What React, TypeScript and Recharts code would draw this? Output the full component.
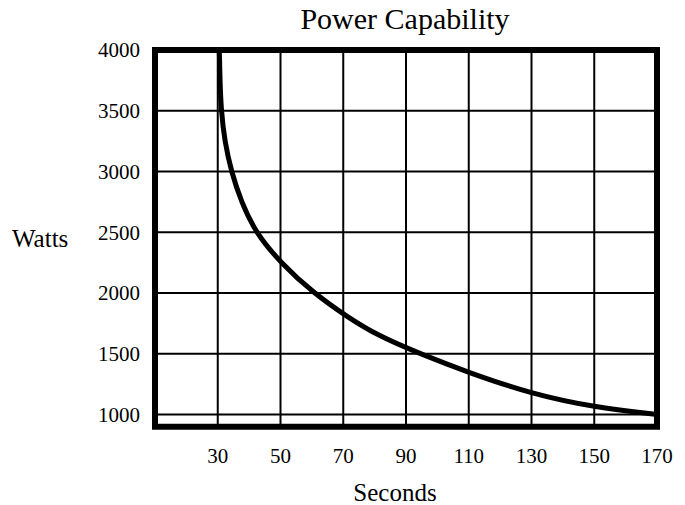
import { LineChart, Line, XAxis, YAxis, CartesianGrid, ReferenceArea } from "recharts"

const seconds = [30.5, 30.7, 31.1, 32.2, 34.3, 37.5, 42, 50, 60.5, 71.5, 81, 94.5, 110, 130, 150, 170]
const watts = [4000, 3750, 3500, 3250, 3000, 2750, 2500, 2250, 2000, 1800, 1650, 1500, 1345, 1170, 1060, 1000]
const xTicks = [30, 50, 70, 90, 110, 130, 150, 170]
const yTicks = [1000, 1500, 2000, 2500, 3000, 3500, 4000]

const data = seconds.map((s, i) => ({ s, w: watts[i] }))

const serif = "'Liberation Serif', 'Times New Roman', serif"

export default function App() {
  return (
    <div style={{ position: "absolute", left: 0, top: 0, width: 685, height: 505, background: "#fff" }}>
      <div
        style={{
          position: "absolute",
          left: 255,
          top: 2,
          width: 300,
          height: 34,
          lineHeight: "34px",
          textAlign: "center",
          fontFamily: serif,
          fontSize: 30,
          color: "#000",
          whiteSpace: "nowrap",
        }}
      >
        Power Capability
      </div>
      <LineChart width={685} height={505} data={data} margin={{ top: 50, right: 28, bottom: 0, left: 0 }}>
        <CartesianGrid stroke="#000" strokeWidth={2} />
        <XAxis
          dataKey="s"
          type="number"
          domain={[10, 170]}
          ticks={xTicks}
          interval={0}
          height={78.3}
          axisLine={false}
          tickLine={false}
          tickSize={0}
          tickMargin={21}
          tick={{ fill: "#000", fontSize: 21, fontFamily: serif }}
          label={{ value: "Seconds", position: "insideBottom", offset: 4, dx: -11, fill: "#000", fontSize: 25, fontFamily: serif }}
        />
        <YAxis
          type="number"
          domain={[900, 4000]}
          ticks={yTicks}
          interval={0}
          width={155}
          axisLine={false}
          tickLine={false}
          tickSize={0}
          tickMargin={15}
          tick={{ fill: "#000", fontSize: 21, fontFamily: serif }}
          label={{ value: "Watts", position: "insideLeft", offset: 12, fill: "#000", fontSize: 25, fontFamily: serif }}
        />
        <ReferenceArea x1={10} x2={170} y1={900} y2={4000} fill="none" stroke="#000" strokeWidth={6} />
        <Line type="basis" dataKey="w" stroke="#000" strokeWidth={5} dot={false} isAnimationActive={false} />
      </LineChart>
    </div>
  )
}
